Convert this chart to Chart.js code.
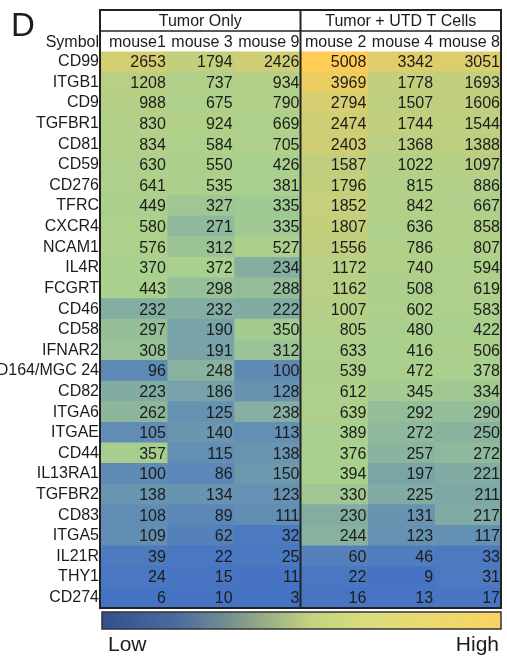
<!DOCTYPE html>
<html>
<head>
<meta charset="utf-8">
<script src="https://cdn.jsdelivr.net/npm/chart.js@4"></script>
<style>
  html, body { margin: 0; padding: 0; background: #fff; }
  canvas { display: block; }
</style>
</head>
<body>
<canvas id="heat" width="507" height="657"></canvas>
<script>
// Surface marker counts per mouse
const genes = ['CD99','ITGB1','CD9','TGFBR1','CD81','CD59','CD276','TFRC','CXCR4','NCAM1','IL4R','FCGRT','CD46','CD58','IFNAR2','CD164/MGC 24','CD82','ITGA6','ITGAE','CD44','IL13RA1','TGFBR2','CD83','ITGA5','IL21R','THY1','CD274'];
const mice = ['mouse1','mouse 3','mouse 9','mouse 2','mouse 4','mouse 8'];
const groups = ['Tumor Only','Tumor + UTD T Cells'];

const mouse1 = [2653,1208,988,830,834,630,641,449,580,576,370,443,232,297,308,96,223,262,105,357,100,138,108,109,39,24,6];
const mouse3 = [1794,737,675,924,584,550,535,327,271,312,372,298,232,190,191,248,186,125,140,115,86,134,89,62,22,15,10];
const mouse9 = [2426,934,790,669,705,426,381,335,335,527,234,288,222,350,312,100,128,238,113,138,150,123,111,32,25,11,3];
const mouse2 = [5008,3969,2794,2474,2403,1587,1796,1852,1807,1556,1172,1162,1007,805,633,539,612,639,389,376,394,330,230,244,60,22,16];
const mouse4 = [3342,1778,1507,1744,1368,1022,815,842,636,786,740,508,602,480,416,472,345,292,272,257,197,225,131,123,46,9,13];
const mouse8 = [3051,1693,1606,1544,1388,1097,886,667,858,807,594,619,583,422,506,378,334,290,250,272,221,211,217,117,33,31,17];

const columns = [mouse1, mouse3, mouse9, mouse2, mouse4, mouse8];

// three-colour scale: min -> median -> max
const LOW = [68, 114, 196], MID = [169, 208, 142], HIGH = [255, 204, 85];
const all = columns.flat().slice().sort((a, b) => a - b);
const vMin = all[0], vMax = all[all.length - 1];
const vMid = all.length % 2 ? all[(all.length - 1) / 2] : (all[all.length / 2 - 1] + all[all.length / 2]) / 2;
function mix(a, b, t) {
  return 'rgb(' + a.map((c, i) => Math.round(c + (b[i] - c) * t)).join(',') + ')';
}
function colorFor(v) {
  if (v <= vMid) return mix(LOW, MID, (v - vMin) / (vMid - vMin));
  return mix(MID, HIGH, (v - vMid) / (vMax - vMid));
}

const FONT = '"Liberation Sans", Arial, sans-serif';
const TABLE_TOP = 10, HEAD_SPLIT = 31;

const datasets = columns.map((vals, ci) => ({
  label: mice[ci],
  data: genes.map((g, ri) => ({ x: [ci, ci + 1], y: g, v: vals[ri] })),
  backgroundColor: ctx => colorFor(ctx.raw ? ctx.raw.v : 0),
  borderWidth: 0,
  inflateAmount: 0.6,
  grouped: false,
  barPercentage: 1,
  categoryPercentage: 1
}));

const tablePlugin = {
  id: 'tableDecor',
  afterDatasetsDraw(chart) {
    const { ctx, chartArea: a, scales: { x } } = chart;
    ctx.save();
    ctx.fillStyle = '#1c1c1c';
    ctx.textBaseline = 'middle';

    // values inside each cell
    ctx.font = '16px ' + FONT;
    ctx.textAlign = 'right';
    chart.data.datasets.forEach((ds, di) => {
      chart.getDatasetMeta(di).data.forEach((el, ri) => {
        ctx.fillText(String(ds.data[ri].v), el.x - 1, el.y + 1);
      });
    });

    // table frame
    const x0 = x.getPixelForValue(0), x3 = x.getPixelForValue(3), x6 = x.getPixelForValue(6);
    ctx.strokeStyle = '#222';
    ctx.lineWidth = 2;
    ctx.strokeRect(x0, TABLE_TOP, x6 - x0, a.bottom - TABLE_TOP);
    ctx.beginPath();
    ctx.moveTo(x3, TABLE_TOP); ctx.lineTo(x3, a.bottom);
    ctx.stroke();
    ctx.lineWidth = 1.5;
    ctx.beginPath();
    ctx.moveTo(x0, HEAD_SPLIT); ctx.lineTo(x6, HEAD_SPLIT);
    ctx.stroke();

    // group headers
    ctx.font = '16px ' + FONT;
    ctx.textAlign = 'center';
    ctx.fillText(groups[0], (x0 + x3) / 2, (TABLE_TOP + HEAD_SPLIT) / 2 + 1);
    ctx.fillText(groups[1], (x3 + x6) / 2, (TABLE_TOP + HEAD_SPLIT) / 2 + 1);

    // column headers
    const hy = (HEAD_SPLIT + a.top) / 2 + 1;
    ctx.textAlign = 'right';
    mice.forEach((m, i) => ctx.fillText(m, x.getPixelForValue(i + 1) - 1, hy));
    ctx.fillText('Symbol', x0 - 1, hy);

    // panel letter
    ctx.font = '33px ' + FONT;
    ctx.textAlign = 'left';
    ctx.textBaseline = 'alphabetic';
    ctx.fillText('D', 11, 36);

    // colour key
    const kx = x0 + 2, ky = a.bottom + 4, kw = x6 - kx, kh = 17;
    const g = ctx.createLinearGradient(kx, 0, kx + kw, 0);
    g.addColorStop(0, '#33508f');
    g.addColorStop(0.18, '#4a6a9e');
    g.addColorStop(0.3, '#6e8a93');
    g.addColorStop(0.42, '#9cb185');
    g.addColorStop(0.52, '#c2d27f');
    g.addColorStop(0.65, '#d8dc7e');
    g.addColorStop(0.8, '#e9d972');
    g.addColorStop(1, '#f8d462');
    ctx.fillStyle = g;
    ctx.fillRect(kx, ky, kw, kh);
    ctx.strokeStyle = '#333';
    ctx.lineWidth = 1.5;
    ctx.strokeRect(kx, ky, kw, kh);

    ctx.fillStyle = '#1c1c1c';
    ctx.font = '21px ' + FONT;
    ctx.textAlign = 'left';
    ctx.fillText('Low', kx + 6, 651);
    ctx.textAlign = 'right';
    ctx.fillText('High', kx + kw - 2, 651);
    ctx.restore();
  }
};

new Chart(document.getElementById('heat'), {
  type: 'bar',
  data: { labels: genes, datasets },
  options: {
    indexAxis: 'y',
    responsive: false,
    animation: false,
    devicePixelRatio: 1,
    layout: { padding: { left: 0, right: 6, top: 51.5, bottom: 49 } },
    plugins: { legend: { display: false }, tooltip: { enabled: false } },
    scales: {
      x: { type: 'linear', min: 0, max: 6, display: false },
      y: {
        type: 'category',
        offset: true,
        grid: { display: false, drawTicks: false },
        border: { display: false },
        ticks: {
          color: '#1c1c1c',
          font: { family: FONT, size: 16 },
          padding: 1,
          autoSkip: false
        },
        afterFit(scale) { scale.width = 100; }
      }
    }
  },
  plugins: [tablePlugin]
});
</script>
</body>
</html>
